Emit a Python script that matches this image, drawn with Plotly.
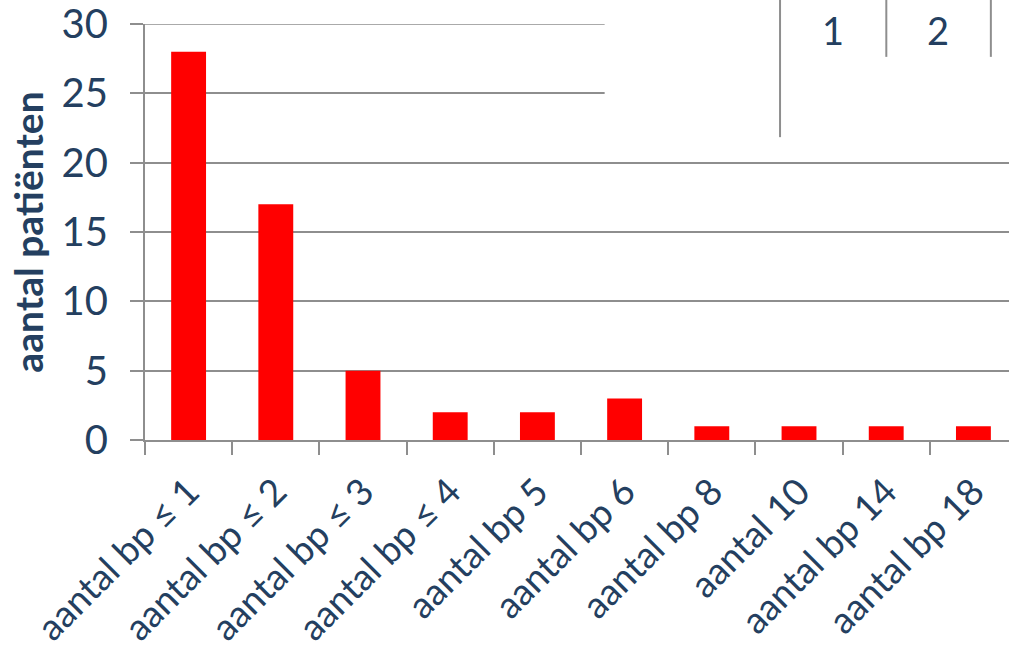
import plotly.graph_objects as go

categories = ["aantal bp ≤ 1", "aantal bp ≤ 2", "aantal bp ≤ 3", "aantal bp ≤ 4",
              "aantal bp 5", "aantal bp 6", "aantal bp 8", "aantal 10",
              "aantal bp 14", "aantal bp 18"]
patients = [28, 17, 5, 2, 2, 3, 1, 1, 1, 1]
y_ticks = [0, 5, 10, 15, 20, 25, 30]
table_labels = ["1", "2"]

TEXT = "#243F60"
GRID = "#8E8E8E"
FONT = "Lato"

fig = go.Figure(go.Bar(x=categories, y=patients, marker=dict(color="#FF0000", line=dict(width=0))))

fig.update_layout(
    width=1009, height=654,
    margin=dict(l=145, r=0, t=24, b=214),
    plot_bgcolor="white", paper_bgcolor="white",
    bargap=0.6, showlegend=False,
    font=dict(family=FONT, color=TEXT),
)
fig.update_xaxes(
    type="category", range=[-0.5, 9.408], automargin=False,
    showline=True, linecolor=GRID, linewidth=2,
    ticks="outside", tickson="boundaries", ticklen=13, tickcolor=GRID, tickwidth=2,
    tickangle=-45, tickfont=dict(size=37, family=FONT, color=TEXT), ticklabelstandoff=13,
    showgrid=False,
)
fig.update_yaxes(
    range=[0, 30], tickvals=y_ticks, automargin=False, ticklabeloverflow="allow",
    showline=True, linecolor=GRID, linewidth=2,
    ticks="outside", ticklen=13, tickcolor=GRID, tickwidth=2,
    showgrid=True, gridcolor=GRID, gridwidth=1.5, zeroline=False,
    tickfont=dict(size=40, family=FONT, color=TEXT), ticklabelstandoff=14,
    title=dict(text="<b>aantal patiënten</b>", font=dict(size=39, family=FONT, color=TEXT), standoff=6),
)

# top gridline (at the edge of the plot area)
fig.add_shape(type="line", xref="paper", yref="y", x0=-0.015, x1=1, y0=y_ticks[-1], y1=y_ticks[-1],
              line=dict(color=GRID, width=1.5), layer="below")

# white overlay box with table fragment (top right)
fig.add_shape(type="rect", xref="paper", yref="paper", x0=0.532, x1=1.01, y0=0.70, y1=1.07,
              fillcolor="white", line=dict(width=0), layer="above")
fig.add_shape(type="line", xref="paper", yref="paper", x0=0.735, x1=0.735, y0=0.728, y1=1.06,
              line=dict(color=GRID, width=2), layer="above")
for xp in [0.858, 0.979]:
    fig.add_shape(type="line", xref="paper", yref="paper", x0=xp, x1=xp, y0=0.921, y1=1.06,
                  line=dict(color=GRID, width=2), layer="above")
for xp, lab in zip([0.796, 0.918], table_labels):
    fig.add_annotation(xref="paper", yref="paper", x=xp, y=0.986, text=lab, showarrow=False,
                       font=dict(size=38, family=FONT, color=TEXT), xanchor="center", yanchor="middle")

fig.write_html("out.html")
